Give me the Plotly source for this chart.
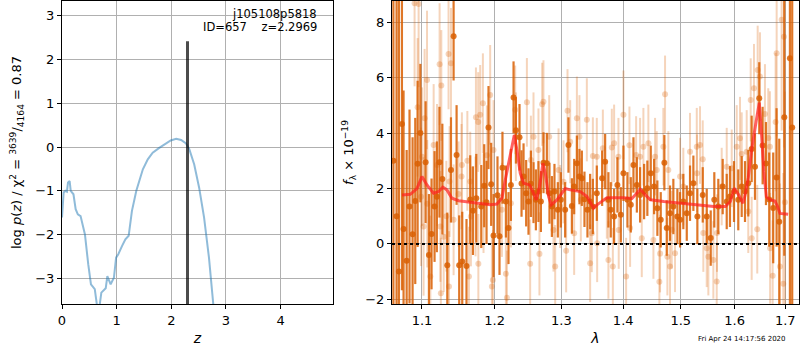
import math
import plotly.graph_objects as go

# ---------------- Left panel: redshift probability ----------------
z_grid = [0.0, 0.03, 0.06, 0.09, 0.11, 0.14, 0.16, 0.21, 0.25, 0.29, 0.34, 0.37, 0.42, 0.48,
          0.53, 0.60, 0.64, 0.67, 0.69, 0.72, 0.80, 0.83, 0.89, 0.95, 0.99, 1.03, 1.10, 1.16,
          1.22, 1.28, 1.36, 1.39, 1.48, 1.57, 1.66, 1.78, 1.88, 1.99, 2.09, 2.18, 2.27, 2.33,
          2.42, 2.51, 2.60, 2.69, 2.77, 2.85]
log_pz = [-1.61, -1.04, -1.00, -1.02, -0.81, -0.78, -1.00, -1.08, -1.42, -1.54, -1.58, -1.73,
          -2.00, -2.68, -3.14, -3.25, -3.61, -3.90, -3.61, -3.33, -3.23, -2.95, -3.14, -2.99,
          -2.53, -2.45, -2.26, -2.11, -2.03, -1.46, -1.00, -0.89, -0.51, -0.28, -0.13, -0.02,
          0.06, 0.15, 0.19, 0.16, 0.08, -0.05, -0.40, -0.93, -1.61, -2.53, -3.61, -4.50]
z_best = 2.2969
z_best_height = 2.42
z_line_bottom = -10.0

# ---------------- Right panel: spectrum ----------------
# dark series (one orient)
dark_wave = [1.063, 1.067, 1.070, 1.0739, 1.0760, 1.0800, 1.0837, 1.0877, 1.0912, 1.0943, 1.0979,
             1.1048, 1.1092, 1.1127, 1.1167, 1.1198, 1.1233, 1.1272, 1.1339, 1.1389, 1.1425,
             1.1466, 1.1502, 1.1544, 1.1603, 1.1655, 1.1693, 1.1740, 1.1810, 1.1852, 1.1885,
             1.1913, 1.1951, 1.1985, 1.2042, 1.2071, 1.2114, 1.2164, 1.2202, 1.2237, 1.2276,
             1.2311, 1.2364, 1.2394, 1.2424, 1.2463, 1.2498, 1.2534, 1.2573, 1.2609, 1.2648,
             1.2685, 1.2725, 1.2776, 1.2816, 1.2853, 1.2893, 1.2945, 1.2992, 1.3059, 1.3111,
             1.3165, 1.3201, 1.3244, 1.3285, 1.3323, 1.3365, 1.3413, 1.3456, 1.3500, 1.3564,
             1.3651, 1.3700, 1.3754, 1.3793, 1.3848, 1.3903, 1.3960, 1.4004, 1.4071, 1.4128,
             1.4173, 1.4231, 1.4286, 1.4355, 1.4411, 1.4470, 1.4528, 1.4585, 1.4644, 1.4708,
             1.4750, 1.4808, 1.4867, 1.4939, 1.4987, 1.5046, 1.5108, 1.5167, 1.5228, 1.5301,
             1.5400, 1.5474, 1.5548, 1.5615, 1.5690, 1.5773, 1.5849, 1.5911, 1.5988, 1.6070,
             1.6136, 1.6200, 1.6264, 1.6330, 1.6395, 1.6479, 1.6546, 1.6612, 1.6677, 1.6757,
             1.6825, 1.6879, 1.6981, 1.7096, 1.7143]
dark_flux = [3.0, 1.0, -1.0, 4.33, 0.54, -0.61, 1.35, 0.35, 1.55, 2.89, 4.0,
             2.95, -0.40, 0.36, 1.35, 1.70, 2.95, 2.34, -0.77, 2.67, 7.50,
             3.21, -0.77, -0.64, -0.80, 1.60, 1.20, 1.65, 1.35, 2.10, 1.50,
             4.20, 2.15, 0.30, 1.76, 0.28, 2.75, 1.53, 0.57, 2.13, 5.29,
             4.10, 3.85, 2.18, 2.43, 1.83, 1.53, 2.17, 1.85, 1.59, 1.89,
             1.53, 2.93, 2.91, 1.83, 1.35, 1.89, 1.23, 1.59, 1.23, 3.57,
             1.37, 2.07, 2.91, 2.43, 2.37, 1.61, 1.23, 1.53, 1.35, 1.83,
             2.37, 2.97, 1.59, 1.23, 0.99, 2.13, 1.05, 2.55, 1.59, 1.41,
             2.85, 2.13, 1.77, 1.89, 2.01, 2.55, 2.07, 1.29, 0.87, 2.93,
             0.57, 1.11, 1.35, 0.99, 0.87, 1.53, 1.11, 1.83, 2.19, 0.99,
             1.77, 0.99, 0.21, 1.59, 1.35, 2.07, 1.53, 1.71, 1.89, 1.59,
             2.07, 1.89, 2.19, 3.43, 2.79, 5.26, 3.55, 2.90, 1.60, 1.30,
             2.40, 0.80, 4.57, 6.70, 4.20]
dark_err = [12.0, 10.0, 10.0, 6.0, 5.0, 4.0, 3.5, 3.5, 3.0, 3.0, 2.5,
            2.2, 2.2, 2.0, 2.0, 2.0, 2.0, 2.0, 1.9, 1.9, 1.6,
            1.8, 1.8, 1.8, 1.7, 1.6, 1.6, 1.6, 1.5, 1.5, 1.5,
            1.5, 1.5, 1.5, 1.4, 1.4, 1.3, 1.3, 1.3, 1.3, 1.3,
            1.2, 1.2, 1.2, 1.2, 1.2, 1.2, 1.2, 1.1, 1.1, 1.1,
            1.1, 1.1, 1.1, 1.1, 1.1, 1.0, 1.0, 1.0, 1.0, 1.0,
            1.0, 1.0, 1.0, 1.0, 1.0, 1.0, 1.0, 1.0, 1.0, 1.0,
            1.0, 1.0, 1.0, 1.0, 1.0, 1.0, 1.0, 1.0, 1.0, 1.0,
            1.0, 1.0, 1.0, 1.0, 1.0, 1.0, 1.0, 1.0, 1.0, 1.0,
            1.0, 1.0, 1.0, 1.0, 1.0, 1.0, 1.0, 1.0, 1.0, 1.0,
            1.0, 1.0, 1.0, 1.0, 1.0, 1.0, 1.0, 1.1, 1.1, 1.1,
            1.1, 1.1, 1.2, 1.2, 1.2, 1.3, 1.4, 1.5, 1.7, 2.0,
            2.5, 3.0, 5.0, 12.0, 12.0]

# light series (other orient)
light_wave = [1.0903, 1.0943, 1.0956, 1.0988, 1.1001, 1.1021, 1.1035, 1.1067, 1.1070, 1.1111,
              1.1155, 1.1200, 1.1235, 1.1245, 1.1252, 1.1258, 1.1290, 1.1326, 1.1356, 1.1362,
              1.1370, 1.1389, 1.1425, 1.1493, 1.1534, 1.1539, 1.1615, 1.1637, 1.1655, 1.1664,
              1.1730, 1.1735, 1.1767, 1.1769, 1.1795, 1.1833, 1.1842, 1.1890, 1.1937, 1.1961,
              1.1976, 1.1985, 1.2106, 1.2164, 1.2179, 1.2237, 1.2300, 1.2310, 1.2474, 1.2523,
              1.2534, 1.2573, 1.2648, 1.2663, 1.2704, 1.2724, 1.2812, 1.2878, 1.2904, 1.2956,
              1.2981, 1.3033, 1.3075, 1.3096, 1.3138, 1.3201, 1.3244, 1.3285, 1.3307, 1.3403,
              1.3456, 1.3483, 1.3500, 1.3564, 1.3570, 1.3663, 1.3728, 1.3754, 1.3810, 1.3827,
              1.3848, 1.3920, 1.3925, 1.4004, 1.4049, 1.4105, 1.4116, 1.4218, 1.4286, 1.4315,
              1.4343, 1.4429, 1.4516, 1.4545, 1.4574, 1.4620, 1.4632, 1.4690, 1.4720, 1.4761,
              1.4778, 1.4808, 1.4838, 1.4897, 1.4987, 1.5046, 1.5167, 1.5290, 1.5295, 1.5350,
              1.5400, 1.5411, 1.5474, 1.5504, 1.5597, 1.5660, 1.5665, 1.5754, 1.5849, 1.5944,
              1.6040, 1.6103, 1.6136, 1.6233, 1.6264, 1.6311, 1.6330, 1.6375, 1.6440, 1.6448,
              1.6493, 1.6592, 1.6658, 1.6691, 1.6695, 1.6746, 1.6805, 1.6826, 1.6893, 1.6927,
              1.6960, 1.6974, 1.6994]
light_flux = [8.69, 4.93, 8.66, 1.70, 3.15, 0.63, 4.54, 5.92, 1.45, -1.18,
              3.57, 2.85, 6.49, 0.63, -1.78, 5.72, 0.26, 1.00, 6.86, -1.54,
              2.25, 6.52, 0.87, 1.80, 2.43, 2.85, 3.00, -1.18, 2.25, 0.99,
              1.35, 4.57, 4.40, -0.72, 4.66, 5.08, 1.47, 3.20, 5.38, -1.54,
              -1.30, 3.39, 1.23, -1.08, -1.94, 1.47, 4.84, 3.87, 5.11, -0.72,
              3.03, 3.87, 3.39, -0.36, 5.04, 5.13, 3.87, 0.50, -0.82, 2.67,
              1.35, 2.24, -0.25, 4.81, 3.69, 0.38, 4.54, 3.87, 1.59, 4.48,
              -0.70, 0.38, 3.17, 3.15, 0.02, 3.45, 1.59, -0.58, 3.48, -0.82,
              3.63, 3.15, 0.50, 4.66, -1.18, 3.56, 0.57, 3.21, 3.15, 0.20,
              3.51, 3.63, 0.14, 3.15, 2.67, -1.37, -0.35, 3.51, 5.40, -0.46,
              2.67, -0.82, 0.51, -0.34, 2.43, 2.07, 3.33, 3.51, 2.55, 3.57,
              3.06, 0.39, -0.16, -0.46, -0.58, -1.36, 0.39, 2.07, 2.79, 2.73,
              3.51, 3.81, 3.25, 3.33, 1.17, 5.20, 0.20, 5.62, 0.53, 6.28,
              6.04, 4.69, 3.82, 3.51, -0.16, -1.15, 4.40, 6.88, -0.82, 8.09,
              -1.44, 7.48, 1.50]
light_err = [3.0, 2.5, 3.0, 2.5, 2.5, 2.5, 2.5, 2.5, 2.3, 2.2,
             2.2, 2.2, 2.2, 2.0, 2.0, 2.0, 2.0, 2.0, 2.0, 2.0,
             2.0, 2.0, 2.0, 1.9, 1.9, 1.9, 1.8, 1.8, 1.8, 1.8,
             1.8, 1.8, 1.8, 1.8, 1.8, 1.8, 1.8, 1.8, 1.8, 1.8,
             1.8, 1.8, 1.7, 1.7, 1.7, 1.6, 1.6, 1.6, 1.6, 1.6,
             1.6, 1.6, 1.5, 1.5, 1.5, 1.5, 1.5, 1.5, 1.5, 1.5,
             1.5, 1.5, 1.5, 1.5, 1.5, 1.5, 1.5, 1.5, 1.5, 1.5,
             1.4, 1.4, 1.4, 1.4, 1.4, 1.4, 1.4, 1.4, 1.4, 1.4,
             1.4, 1.4, 1.4, 1.6, 1.4, 1.4, 1.4, 1.4, 1.4, 1.4,
             1.4, 1.4, 1.4, 1.4, 1.4, 1.4, 1.4, 1.4, 1.4, 1.4,
             1.4, 1.4, 1.4, 1.4, 1.4, 1.4, 1.4, 1.4, 1.4, 1.4,
             1.4, 1.4, 1.4, 1.4, 1.4, 1.4, 1.4, 1.4, 1.4, 1.4,
             1.5, 1.5, 1.5, 1.5, 1.5, 1.5, 1.5, 1.6, 1.6, 1.6,
             1.6, 1.8, 1.8, 2.0, 2.0, 2.0, 2.5, 3.0, 3.0, 4.0,
             4.0, 4.0, 4.0]

# model
model_wave = [1.074, 1.0847, 1.0934, 1.100, 1.1066, 1.1154, 1.1221, 1.1279, 1.1334, 1.1402,
              1.1494, 1.1702, 1.1938, 1.2034, 1.2106, 1.2155, 1.2228, 1.2287, 1.2326, 1.2375,
              1.2425, 1.2514, 1.2585, 1.2615, 1.2665, 1.2716, 1.2752, 1.2803, 1.2844, 1.2931,
              1.3061, 1.3140, 1.3298, 1.3405, 1.3512, 1.3567, 1.3730, 1.4007, 1.4148, 1.4221,
              1.4290, 1.4376, 1.4463, 1.4697, 1.4993, 1.5295, 1.5603, 1.5823, 1.5918, 1.5994,
              1.6077, 1.6161, 1.6200, 1.6264, 1.6330, 1.6416, 1.6480, 1.6526, 1.6570, 1.6620,
              1.6691, 1.6791, 1.6845, 1.6893, 1.7060]
model_flux = [1.77, 1.79, 2.00, 2.43, 2.13, 1.83, 1.89, 2.05, 1.95, 1.65,
              1.56, 1.49, 1.41, 1.44, 1.65, 2.31, 3.27, 3.93, 3.39, 2.55,
              2.19, 2.13, 1.77, 1.59, 2.07, 2.91, 2.55, 1.71, 1.41, 1.59,
              2.00, 1.95, 1.89, 1.71, 1.29, 1.41, 1.67, 1.67, 1.64, 1.83,
              1.97, 1.77, 1.59, 1.53, 1.47, 1.41, 1.35, 1.35, 1.53, 2.01,
              1.77, 1.47, 1.75, 2.40, 3.40, 4.40, 5.10, 3.90, 2.60, 1.70,
              1.60, 1.55, 1.35, 1.10, 1.07]

wave_ticks = [1.1, 1.2, 1.3, 1.4, 1.5, 1.6, 1.7]
wave_range = [1.0612, 1.7283]
flux_ticks = [-2, 0, 2, 4, 6, 8]
flux_range = [-2.17, 8.77]
z_ticks = [0, 1, 2, 3, 4]
z_range = [0, 4.96]
pz_ticks = [-3, -2, -1, 0, 1, 2, 3]
pz_range = [-3.59, 3.34]

obj_name = "j105108p5818"
obj_info = "ID=657    z=2.2969"
stamp = "Fri Apr 24 14:17:56 2020"

# ---------------- Figure ----------------
FONT = "DejaVu Sans, Verdana, sans-serif"
ORANGE_DARK = "rgba(217,95,2,0.85)"
ORANGE_LIGHT = "rgba(217,95,2,0.27)"
GRID = "#b0b0b0"

fig = go.Figure()

fig.add_trace(go.Scatter(x=z_grid, y=log_pz, mode="lines",
                         line=dict(color="rgba(31,119,180,0.5)", width=2),
                         xaxis="x", yaxis="y", hoverinfo="skip"))
fig.add_trace(go.Scatter(x=[z_best, z_best], y=[z_line_bottom, z_best_height], mode="lines",
                         line=dict(color="rgba(0,0,0,0.7)", width=3),
                         xaxis="x", yaxis="y", hoverinfo="skip"))

fig.add_trace(go.Scatter(x=light_wave, y=light_flux, mode="markers",
                         marker=dict(color=ORANGE_LIGHT, size=6, line=dict(width=0)),
                         error_y=dict(type="data", array=light_err, color=ORANGE_LIGHT,
                                      thickness=2, width=0),
                         xaxis="x2", yaxis="y2", hoverinfo="skip"))
fig.add_trace(go.Scatter(x=dark_wave, y=dark_flux, mode="markers",
                         marker=dict(color=ORANGE_DARK, size=6, line=dict(width=0)),
                         error_y=dict(type="data", array=dark_err, color=ORANGE_DARK,
                                      thickness=2.2, width=0),
                         xaxis="x2", yaxis="y2", hoverinfo="skip"))
fig.add_trace(go.Scatter(x=model_wave, y=model_flux, mode="lines",
                         line=dict(color="rgba(255,30,30,0.7)", width=3),
                         xaxis="x2", yaxis="y2", hoverinfo="skip"))

# zero line (dotted)
fig.add_shape(type="line", xref="x2 domain", yref="y2", x0=0, x1=1, y0=0, y1=0,
              line=dict(color="black", width=2, dash="dot"), layer="above")

ax_common = dict(showgrid=True, gridcolor=GRID, gridwidth=1, zeroline=False,
                 showline=True, linecolor="black", linewidth=1, mirror=True,
                 ticks="outside", ticklen=4, tickcolor="black", automargin=False,
                 tickfont=dict(family=FONT, size=13, color="black"))

ydom = [1 - 304 / 350, 1 - 1 / 350]

fig.update_layout(
    width=800, height=350,
    margin=dict(l=0, r=0, t=0, b=0, autoexpand=False),
    paper_bgcolor="white", plot_bgcolor="white",
    showlegend=False,
    font=dict(family=FONT, size=13, color="black"),
    xaxis=dict(domain=[62 / 800, 333 / 800], range=z_range, tickvals=z_ticks,
               title=dict(text="<i>z</i>", standoff=6, font=dict(size=14)), anchor="y",
               **ax_common),
    yaxis=dict(domain=ydom, range=pz_range, tickvals=pz_ticks,
               title=dict(text="log <i>p</i>(<i>z</i>) / χ<sup>2</sup> = "
                               "<sup>3639</sup>/<sub>4164</sub> = 0.87",
                          standoff=10, font=dict(size=13)),
               anchor="x", **ax_common),
    xaxis2=dict(domain=[392 / 800, 799 / 800], type="log",
                range=[math.log10(wave_range[0]), math.log10(wave_range[1])],
                tickvals=wave_ticks, ticktext=[f"{v:.1f}" for v in wave_ticks],
                title=dict(text="<i>λ</i>", standoff=6, font=dict(size=14)), anchor="y2",
                **ax_common),
    yaxis2=dict(domain=ydom, range=flux_range, tickvals=flux_ticks,
                title=dict(text="<i>f</i><sub>λ</sub> × 10<sup>−19</sup>", standoff=8,
                           font=dict(size=13)),
                anchor="x2", **ax_common),
)

fig.add_annotation(xref="x domain", yref="y domain", x=0.947, y=0.957,
                   text=obj_name, showarrow=False, xanchor="right", yanchor="middle",
                   font=dict(family=FONT, size=11.5, color="black"))
fig.add_annotation(xref="x domain", yref="y domain", x=0.947, y=0.914,
                   text=obj_info, showarrow=False, xanchor="right", yanchor="middle",
                   font=dict(family=FONT, size=11.5, color="black"))
fig.add_annotation(xref="paper", yref="paper", x=788 / 800, y=1 - 339 / 350,
                   text=stamp, showarrow=False, xanchor="right", yanchor="middle",
                   font=dict(family=FONT, size=7, color="black"))

fig.write_html("out.html", config={"displayModeBar": False},
               post_script="document.body.style.margin='0';"
                           "document.body.style.overflow='hidden';")
